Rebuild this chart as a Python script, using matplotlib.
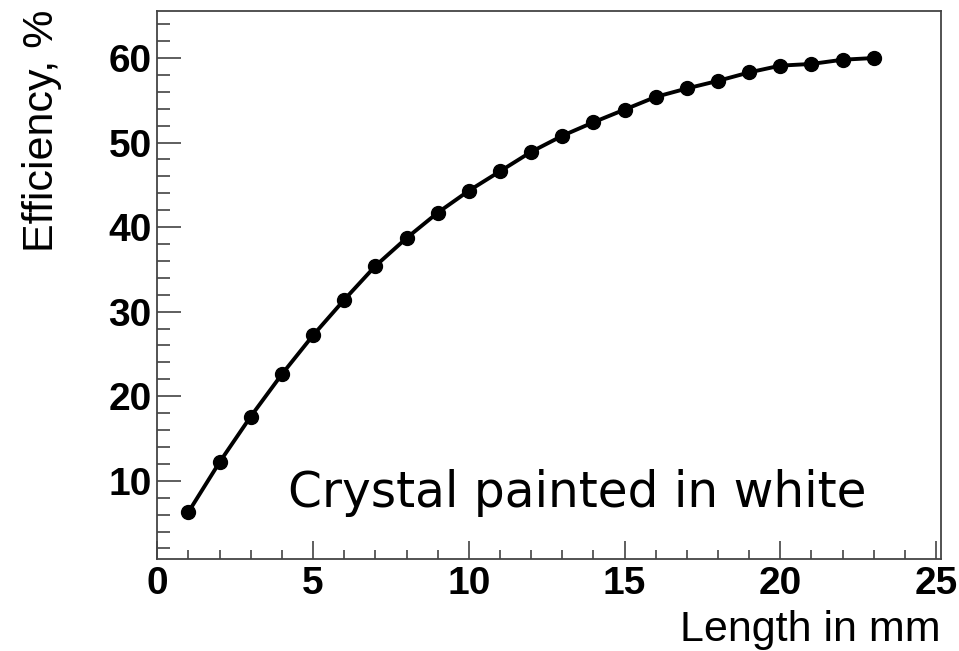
import matplotlib.pyplot as plt
from matplotlib.ticker import MultipleLocator

# crystal length (mm) and light collection efficiency (%)
length_mm = [1, 2, 3, 4, 5, 6, 7, 8, 9, 10, 11, 12,
             13, 14, 15, 16, 17, 18, 19, 20, 21, 22, 23]
efficiency = [6.3, 12.2, 17.6, 22.6, 27.2, 31.4, 35.4, 38.7, 41.7, 44.3, 46.6, 48.9,
              50.8, 52.4, 53.9, 55.4, 56.4, 57.3, 58.3, 59.1, 59.3, 59.8, 60.0]

plt.rcParams['font.family'] = ['Liberation Sans', 'DejaVu Sans']

fig = plt.figure(figsize=(9.59, 6.51), dpi=100)
ax = fig.add_axes([0.164, 0.142, 0.817, 0.8416])

ax.plot(length_mm, efficiency, color='black', lw=2.8,
        marker='o', markersize=10, solid_joinstyle='round')

ax.set_xlim(0, 25.15)
ax.set_ylim(0.8, 65.6)

ax.xaxis.set_major_locator(MultipleLocator(5))
ax.xaxis.set_minor_locator(MultipleLocator(1))
ax.yaxis.set_minor_locator(MultipleLocator(2))
ax.set_yticks([10, 20, 30, 40, 50, 60])

ax.tick_params(axis='x', which='major', direction='in', length=13, width=1.1,
               color='#333333', pad=5, labelsize=28)
ax.tick_params(axis='x', which='minor', direction='in', length=6.5, width=1.1, color='#333333')
ax.tick_params(axis='y', which='major', direction='in', length=17, width=1.1,
               color='#333333', pad=4, labelsize=28)
ax.tick_params(axis='y', which='minor', direction='in', length=9.5, width=1.1, color='#333333')
for lab in ax.get_xticklabels() + ax.get_yticklabels():
    lab.set_fontweight('bold')

for sp in ax.spines.values():
    sp.set_color('#444444')
    sp.set_linewidth(1.3)

fig.text(0.044, 0.799, 'Efficiency, %', rotation=90, fontsize=31,
         ha='center', va='center')
fig.text(0.981, 0.016, 'Length in mm', fontsize=31, ha='right', va='baseline')

ax.text(4.2, 6.9, 'Crystal painted in white', fontsize=35,
        family='DejaVu Sans', ha='left', va='baseline')

fig.savefig('out.png', dpi=100)
